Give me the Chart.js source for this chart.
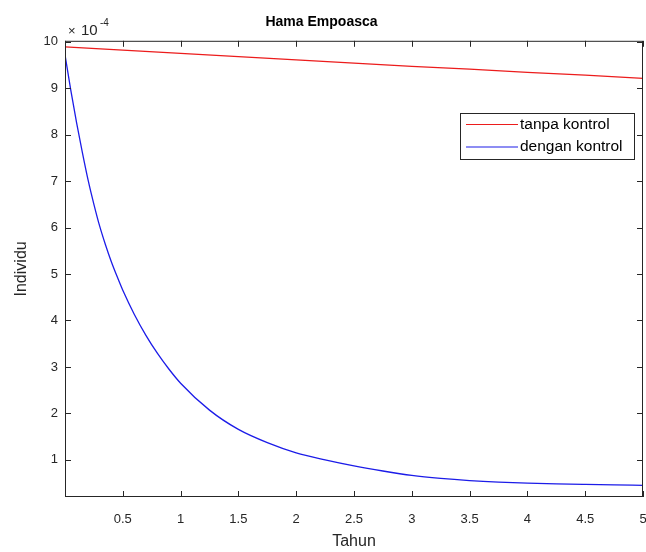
<!DOCTYPE html>
<html>
<head>
<meta charset="utf-8">
<script src="https://cdn.jsdelivr.net/npm/chart.js@4"></script>
<style>
  html, body { margin: 0; padding: 0; background: #fff; }
</style>
</head>
<body>
<canvas id="hamaChart" width="646" height="552"></canvas>
<script>
// data (values x 10^-4)
const tahunMerah = [0, 0.5, 1, 1.5, 2, 2.5, 3, 3.5, 4, 4.5, 5];
const tanpaKontrol = [9.89, 9.82, 9.75, 9.68, 9.61, 9.54, 9.47, 9.41, 9.34, 9.28, 9.21];

const tahunBiru = [0, 0.05, 0.1, 0.15, 0.2, 0.25, 0.3, 0.35, 0.4, 0.45, 0.5, 0.6, 0.7, 0.8, 0.9, 1.0,
  1.25, 1.5, 1.75, 2.0, 2.25, 2.5, 2.75, 3.0, 3.25, 3.5, 3.75, 4.0, 4.25, 4.5, 4.75, 5.0];
const denganKontrol = [9.72, 8.96, 8.26, 7.62, 7.02, 6.5, 6.03, 5.63, 5.27, 4.95, 4.65, 4.13, 3.68, 3.29, 2.95, 2.65,
  2.07, 1.655, 1.37, 1.15, 1.0, 0.87, 0.76, 0.665, 0.6, 0.553, 0.52, 0.498, 0.482, 0.47, 0.46, 0.452];

const seriesLabels = ["tanpa kontrol", "dengan kontrol"];
const FONT = "'Liberation Sans', Arial, sans-serif";
const INK = "#262626";

const toPoints = (xs, ys) => xs.map((x, i) => ({ x, y: ys[i] }));

// MATLAB-like box, inward ticks, exponent and legend
const matlabFrame = {
  id: "matlabFrame",
  afterDraw(chart) {
    const { ctx, chartArea: a, scales: { x, y } } = chart;
    ctx.save();
    ctx.strokeStyle = INK;
    ctx.lineWidth = 1;
    ctx.strokeRect(a.left + 0.5, a.top + 0.5, a.right - a.left - 1, a.bottom - a.top - 1);
    ctx.beginPath();
    x.ticks.forEach(t => {
      const px = Math.round(x.getPixelForValue(t.value)) + 0.5;
      ctx.moveTo(px, a.bottom); ctx.lineTo(px, a.bottom - 6);
      ctx.moveTo(px, a.top); ctx.lineTo(px, a.top + 6);
    });
    y.ticks.forEach(t => {
      const py = Math.round(y.getPixelForValue(t.value)) + 0.5;
      ctx.moveTo(a.left, py); ctx.lineTo(a.left + 6, py);
      ctx.moveTo(a.right, py); ctx.lineTo(a.right - 6, py);
    });
    ctx.stroke();

    // exponent label
    ctx.fillStyle = INK;
    ctx.textBaseline = "alphabetic";
    ctx.textAlign = "left";
    ctx.font = "13px " + FONT;
    ctx.fillText("\u00d7", a.left + 3, a.top - 6);
    ctx.font = "15px " + FONT;
    ctx.fillText("10", a.left + 16, a.top - 6);
    ctx.font = "10px " + FONT;
    ctx.fillText("-4", a.left + 35, a.top - 15);

    // legend
    const lx = 460, ly = 113, lw = 174, lh = 46;
    ctx.fillStyle = "#fff";
    ctx.fillRect(lx, ly, lw, lh);
    ctx.strokeStyle = INK;
    ctx.lineWidth = 1;
    ctx.strokeRect(lx + 0.5, ly + 0.5, lw, lh);
    ctx.font = "15.5px " + FONT;
    ctx.textBaseline = "middle";
    chart.data.datasets.forEach((ds, i) => {
      const yy = ly + 11.5 + i * 22.5;
      ctx.strokeStyle = ds.borderColor;
      ctx.lineWidth = 1.2;
      ctx.beginPath();
      ctx.moveTo(lx + 6, yy); ctx.lineTo(lx + 58, yy);
      ctx.stroke();
      ctx.fillStyle = "#000";
      ctx.fillText(ds.label, lx + 60, yy);
    });
    ctx.restore();
  }
};

new Chart(document.getElementById("hamaChart"), {
  type: "scatter",
  data: {
    datasets: [
      {
        label: seriesLabels[0],
        data: toPoints(tahunMerah, tanpaKontrol),
        borderColor: "#ec1c1c",
        borderWidth: 1.2,
        showLine: true,
        pointRadius: 0,
      },
      {
        label: seriesLabels[1],
        data: toPoints(tahunBiru, denganKontrol),
        borderColor: "#1c1ce8",
        borderWidth: 1.3,
        showLine: true,
        pointRadius: 0,
        cubicInterpolationMode: "monotone",
      },
    ],
  },
  options: {
    responsive: false,
    animation: false,
    layout: { padding: { right: 3 } },
    plugins: {
      legend: { display: false },
      tooltip: { enabled: false },
      title: {
        display: true,
        text: "Hama Empoasca",
        color: "#000",
        font: { family: FONT, size: 14, weight: "bold" },
        padding: { top: 14, bottom: 10 },
      },
    },
    scales: {
      x: {
        type: "linear",
        min: 0,
        max: 5,
        afterFit: s => { s.height = 55; s.paddingRight = 0; s.paddingLeft = 0; },
        grid: { display: false, drawTicks: false },
        border: { display: false },
        ticks: {
          stepSize: 0.5,
          padding: 15,
          color: INK,
          font: { family: FONT, size: 13 },
          maxRotation: 0,
          autoSkip: false,
          callback: v => (v === 0 ? "" : v),
        },
        title: {
          display: true,
          text: "Tahun",
          color: INK,
          font: { family: FONT, size: 16 },
          padding: { top: 0, bottom: 1 },
        },
      },
      y: {
        min: 0.2,
        max: 10.02,
        afterFit: s => { s.width = 65; },
        grid: { display: false, drawTicks: false },
        border: { display: false },
        ticks: {
          stepSize: 1,
          includeBounds: false,
          padding: 7,
          color: INK,
          font: { family: FONT, size: 13 },
        },
        title: {
          display: true,
          text: "Individu",
          color: INK,
          font: { family: FONT, size: 16 },
          padding: { top: 12, bottom: 0 },
        },
      },
    },
  },
  plugins: [matlabFrame],
});
</script>
</body>
</html>
